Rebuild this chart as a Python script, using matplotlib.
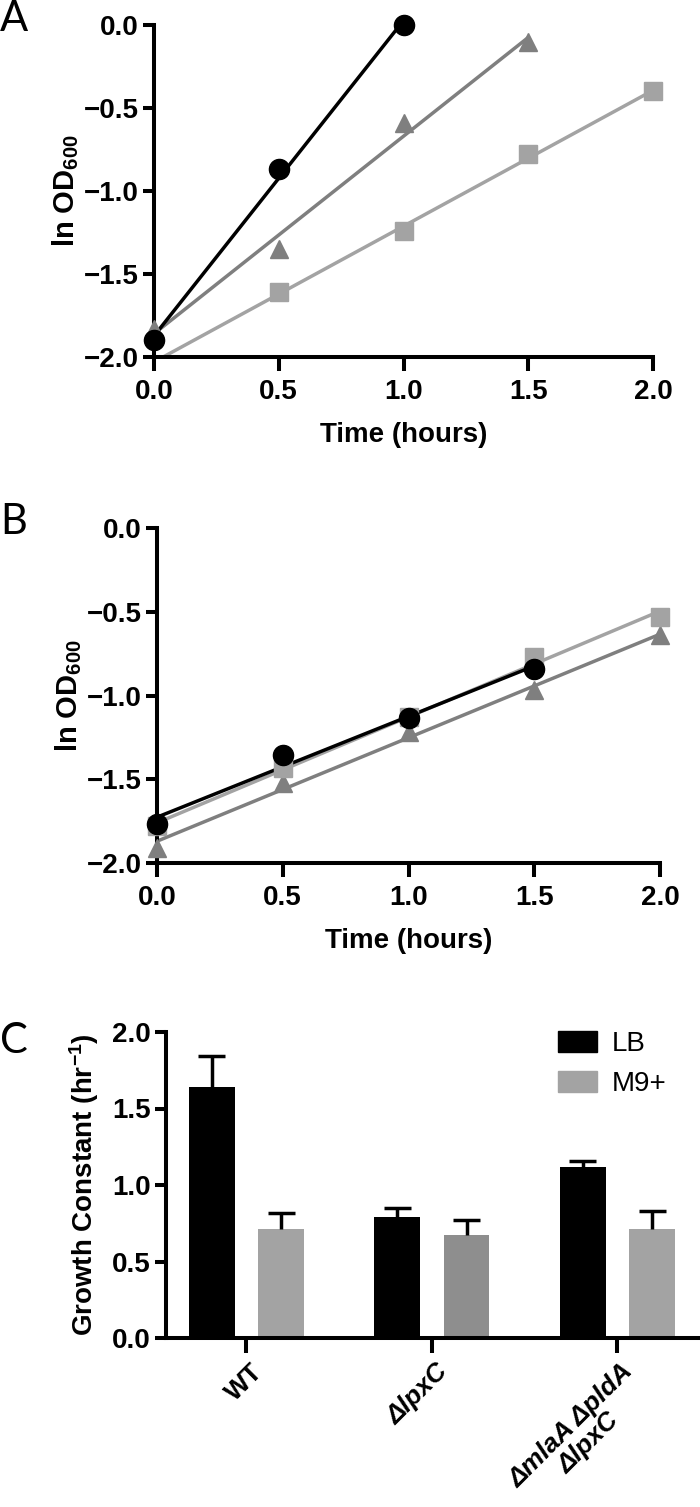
import numpy as np
import matplotlib
matplotlib.use('Agg')
import matplotlib.pyplot as plt
from matplotlib.patches import Patch

plt.rcParams['font.family'] = ['Liberation Sans', 'DejaVu Sans']
plt.rcParams['font.weight'] = 'bold'
plt.rcParams['axes.labelweight'] = 'bold'
plt.rcParams['mathtext.fontset'] = 'custom'
plt.rcParams['mathtext.rm'] = 'Liberation Sans:bold'
plt.rcParams['mathtext.bf'] = 'Liberation Sans:bold'
plt.rcParams['mathtext.default'] = 'bf'

# panel A: LB growth curves (ln OD600)
a_circle_t = [0.0, 0.5, 1.0]
a_circle_y = [-1.90, -0.87, 0.00]
a_tri_t = [0.0, 0.5, 1.0, 1.5]
a_tri_y = [-1.83, -1.35, -0.59, -0.10]
a_sq_t = [0.5, 1.0, 1.5, 2.0]
a_sq_y = [-1.61, -1.24, -0.78, -0.40]

# panel B: M9+ growth curves
b_circle_t = [0.0, 0.5, 1.0, 1.5]
b_circle_y = [-1.77, -1.355, -1.135, -0.84]
b_sq_t = [0.0, 0.5, 1.0, 1.5, 2.0]
b_sq_y = [-1.78, -1.43, -1.13, -0.77, -0.53]
b_tri_t = [0.0, 0.5, 1.0, 1.5, 2.0]
b_tri_y = [-1.91, -1.52, -1.22, -0.97, -0.64]

# panel C: growth constants
strains = ['WT', 'ΔlpxC', 'ΔmlaA ΔpldA\nΔlpxC']
lb_mean = [1.64, 0.79, 1.12]
lb_err = [0.20, 0.06, 0.035]
m9_mean = [0.715, 0.675, 0.715]
m9_err = [0.105, 0.095, 0.115]

BLACK = '#000000'
DARK = '#7f7f7f'
LIGHT = '#a3a3a3'
M9_COLORS = [LIGHT, '#8e8e8e', LIGHT]

W, H = 700, 1507
fig = plt.figure(figsize=(W / 100, H / 100), dpi=100)


def px_axes(left, right, top, bottom):
    return fig.add_axes([left / W, 1 - bottom / H, (right - left) / W, (bottom - top) / H])


def style_axes(ax, xlen=10, ylen=8):
    for s in ['top', 'right']:
        ax.spines[s].set_visible(False)
    for s in ['left', 'bottom']:
        ax.spines[s].set_linewidth(2.9)
    ax.tick_params(axis='x', length=xlen, width=2.9, labelsize=20, pad=6)
    ax.tick_params(axis='y', length=ylen, width=2.9, labelsize=20, pad=3)


def growth_panel(ax, series):
    for t, y, color, marker, ms in series:
        t = np.array(t)
        y = np.array(y)
        k, b = np.polyfit(t, y, 1)
        xs = np.array([0.0, t.max()])
        ax.plot(xs, k * xs + b, color=color, lw=2.5, zorder=2)
        ax.plot(t, y, linestyle='none', marker=marker, ms=ms, color=color,
                clip_on=False, zorder=3)
    ax.set_xlim(0, 2.0)
    ax.set_ylim(-2.0, 0.0)
    ax.set_xticks(np.arange(0, 2.01, 0.5))
    ax.set_yticks(np.arange(-2.0, 0.01, 0.5))
    ax.xaxis.set_major_formatter('{x:.1f}')
    ax.yaxis.set_major_formatter('{x:.1f}')
    ax.set_xlabel('Time (hours)', fontsize=20, labelpad=12)
    ax.set_ylabel(r'ln OD$_{600}$', fontsize=21, labelpad=2)
    style_axes(ax)


axA = px_axes(154, 653, 25, 357)
growth_panel(axA, [
    (a_sq_t, a_sq_y, LIGHT, 's', 12.5),
    (a_tri_t, a_tri_y, DARK, '^', 13.5),
    (a_circle_t, a_circle_y, BLACK, 'o', 14.5),
])

axB = px_axes(157, 660, 528, 863)
growth_panel(axB, [
    (b_tri_t, b_tri_y, DARK, '^', 13.5),
    (b_sq_t, b_sq_y, LIGHT, 's', 12.5),
    (b_circle_t, b_circle_y, BLACK, 'o', 14.5),
])

# panel C bars
axC = px_axes(166, 699, 1032, 1338)
x = np.arange(len(strains))
bw = 0.246
off = 0.187
axC.bar(x - off, lb_mean, bw, color=BLACK, zorder=2)
axC.bar(x + off, m9_mean, bw, color=M9_COLORS, zorder=2)
cap = 0.073
for xs, m, e in [(x - off, lb_mean, lb_err), (x + off, m9_mean, m9_err)]:
    top = np.array(m) + np.array(e)
    axC.vlines(xs, m, top, color=BLACK, lw=2.5, zorder=3)
    axC.hlines(top, xs - cap, xs + cap, color=BLACK, lw=2.5, zorder=3)
axC.set_xlim(-0.434, 2.44)
axC.set_ylim(0, 2.0)
axC.set_yticks(np.arange(0, 2.01, 0.5))
axC.yaxis.set_major_formatter('{x:.1f}')
axC.set_xticks(x)
axC.set_xticklabels([])
style_axes(axC, xlen=11)
for i, lab in enumerate(strains):
    axC.text(x[i] + 0.02, -0.14, lab, rotation=45, ha='right', va='top',
             rotation_mode='anchor', multialignment='center', fontsize=19,
             linespacing=1.05,
             fontstyle='normal' if lab == 'WT' else 'italic', clip_on=False)
axC.set_ylabel('Growth Constant (hr$^{-1}$)', fontsize=20, labelpad=8)
handles = [Patch(color=BLACK, label='LB'), Patch(color=LIGHT, label='M9+')]
fig.legend(handles=handles, loc='upper left', bbox_to_anchor=(558 / W, 1 - 1031 / H),
           frameon=False, borderpad=0, borderaxespad=0, handlelength=1.4,
           handleheight=0.8, handletextpad=0.55, labelspacing=0.5,
           prop={'family': 'Liberation Sans', 'weight': 'normal', 'size': 20})

# panel letters
for letter, ypx in [('A', 0), ('B', 503), ('C', 1022)]:
    fig.text(0.0, 1 - ypx / H, letter, fontsize=30, fontweight='normal',
             family=['Lato', 'DejaVu Sans'], ha='left', va='top')

fig.savefig('out.png', dpi=100)
